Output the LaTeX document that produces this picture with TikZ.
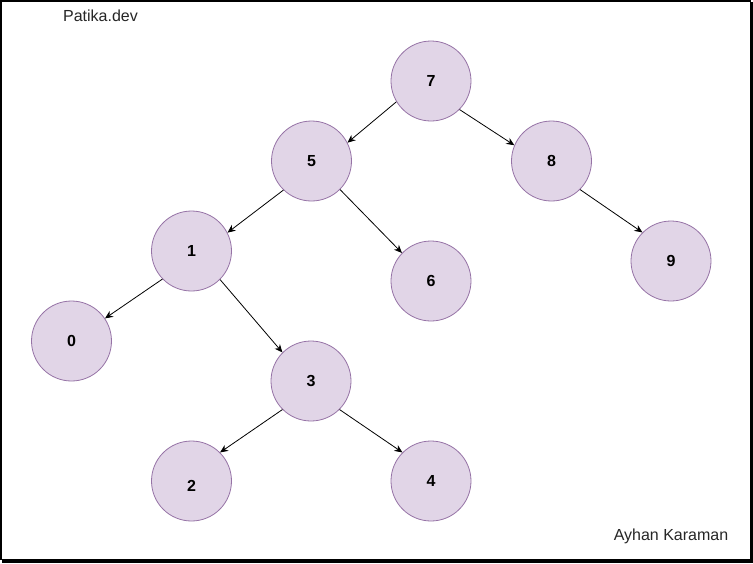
\documentclass[tikz,border=0pt]{standalone}
\usepackage{fontspec}
\setmainfont{Liberation Sans}
\usetikzlibrary{arrows.meta}
\definecolor{tfill}{HTML}{E1D5E7}
\definecolor{tborder}{HTML}{9673A6}
\begin{document}
\begin{tikzpicture}[x=1pt,y=-1pt,
  tn/.style={circle,draw=tborder,fill=tfill,line width=0.8pt,minimum size=80pt,inner sep=0pt,font=\fontsize{16}{18}\selectfont\bfseries},
  edge/.style={-{Stealth[length=8pt,width=7pt]},line width=0.8pt},
  lbl/.style={font=\fontsize{16}{18}\selectfont,text=black!85}]
\useasboundingbox (0,0) rectangle (753,563);
\fill[white] (0,0) rectangle (753,563);
\draw[line width=1.5pt] (0.75,0.75) rectangle (750.5,559.5);
\fill (750,2) rectangle (753,563);
\fill (2,559) rectangle (753,563);

\node[lbl] (t1) at (100.5,16) {Patika.dev};
\node[lbl] (t2) at (671,536.5) {Ayhan Karaman};

\node[tn] (n7) at (431,81) {7};
\node[tn] (n5) at (311.5,161) {5};
\node[tn] (n8) at (551.5,161) {8};
\node[tn] (n1) at (191.5,251) {1};
\node[tn] (n6) at (431,281) {6};
\node[tn] (n9) at (671,261) {9};
\node[tn] (n0) at (71.5,341) {0};
\node[tn] (n3) at (311,381) {3};
\node[tn] (n2) at (191.5,481) {\raisebox{-10.5pt}[0pt][0pt]{2}};
\node[tn] (n4) at (431,481) {4};

\draw[edge] (n7.211) -- (n5.27);
\draw[edge] (n7.-45) -- (n8.157);
\draw[edge] (n5.226) -- (n1.27);
\draw[edge] (n5.-45) -- (n6.136);
\draw[edge] (n1.224) -- (n0.34);
\draw[edge] (n1.-45) -- (n3.135);
\draw[edge] (n3.225) -- (n2.45);
\draw[edge] (n3.-45) -- (n4.135);
\draw[edge] (n8.-45) -- (n9.135);
\end{tikzpicture}
\end{document}
